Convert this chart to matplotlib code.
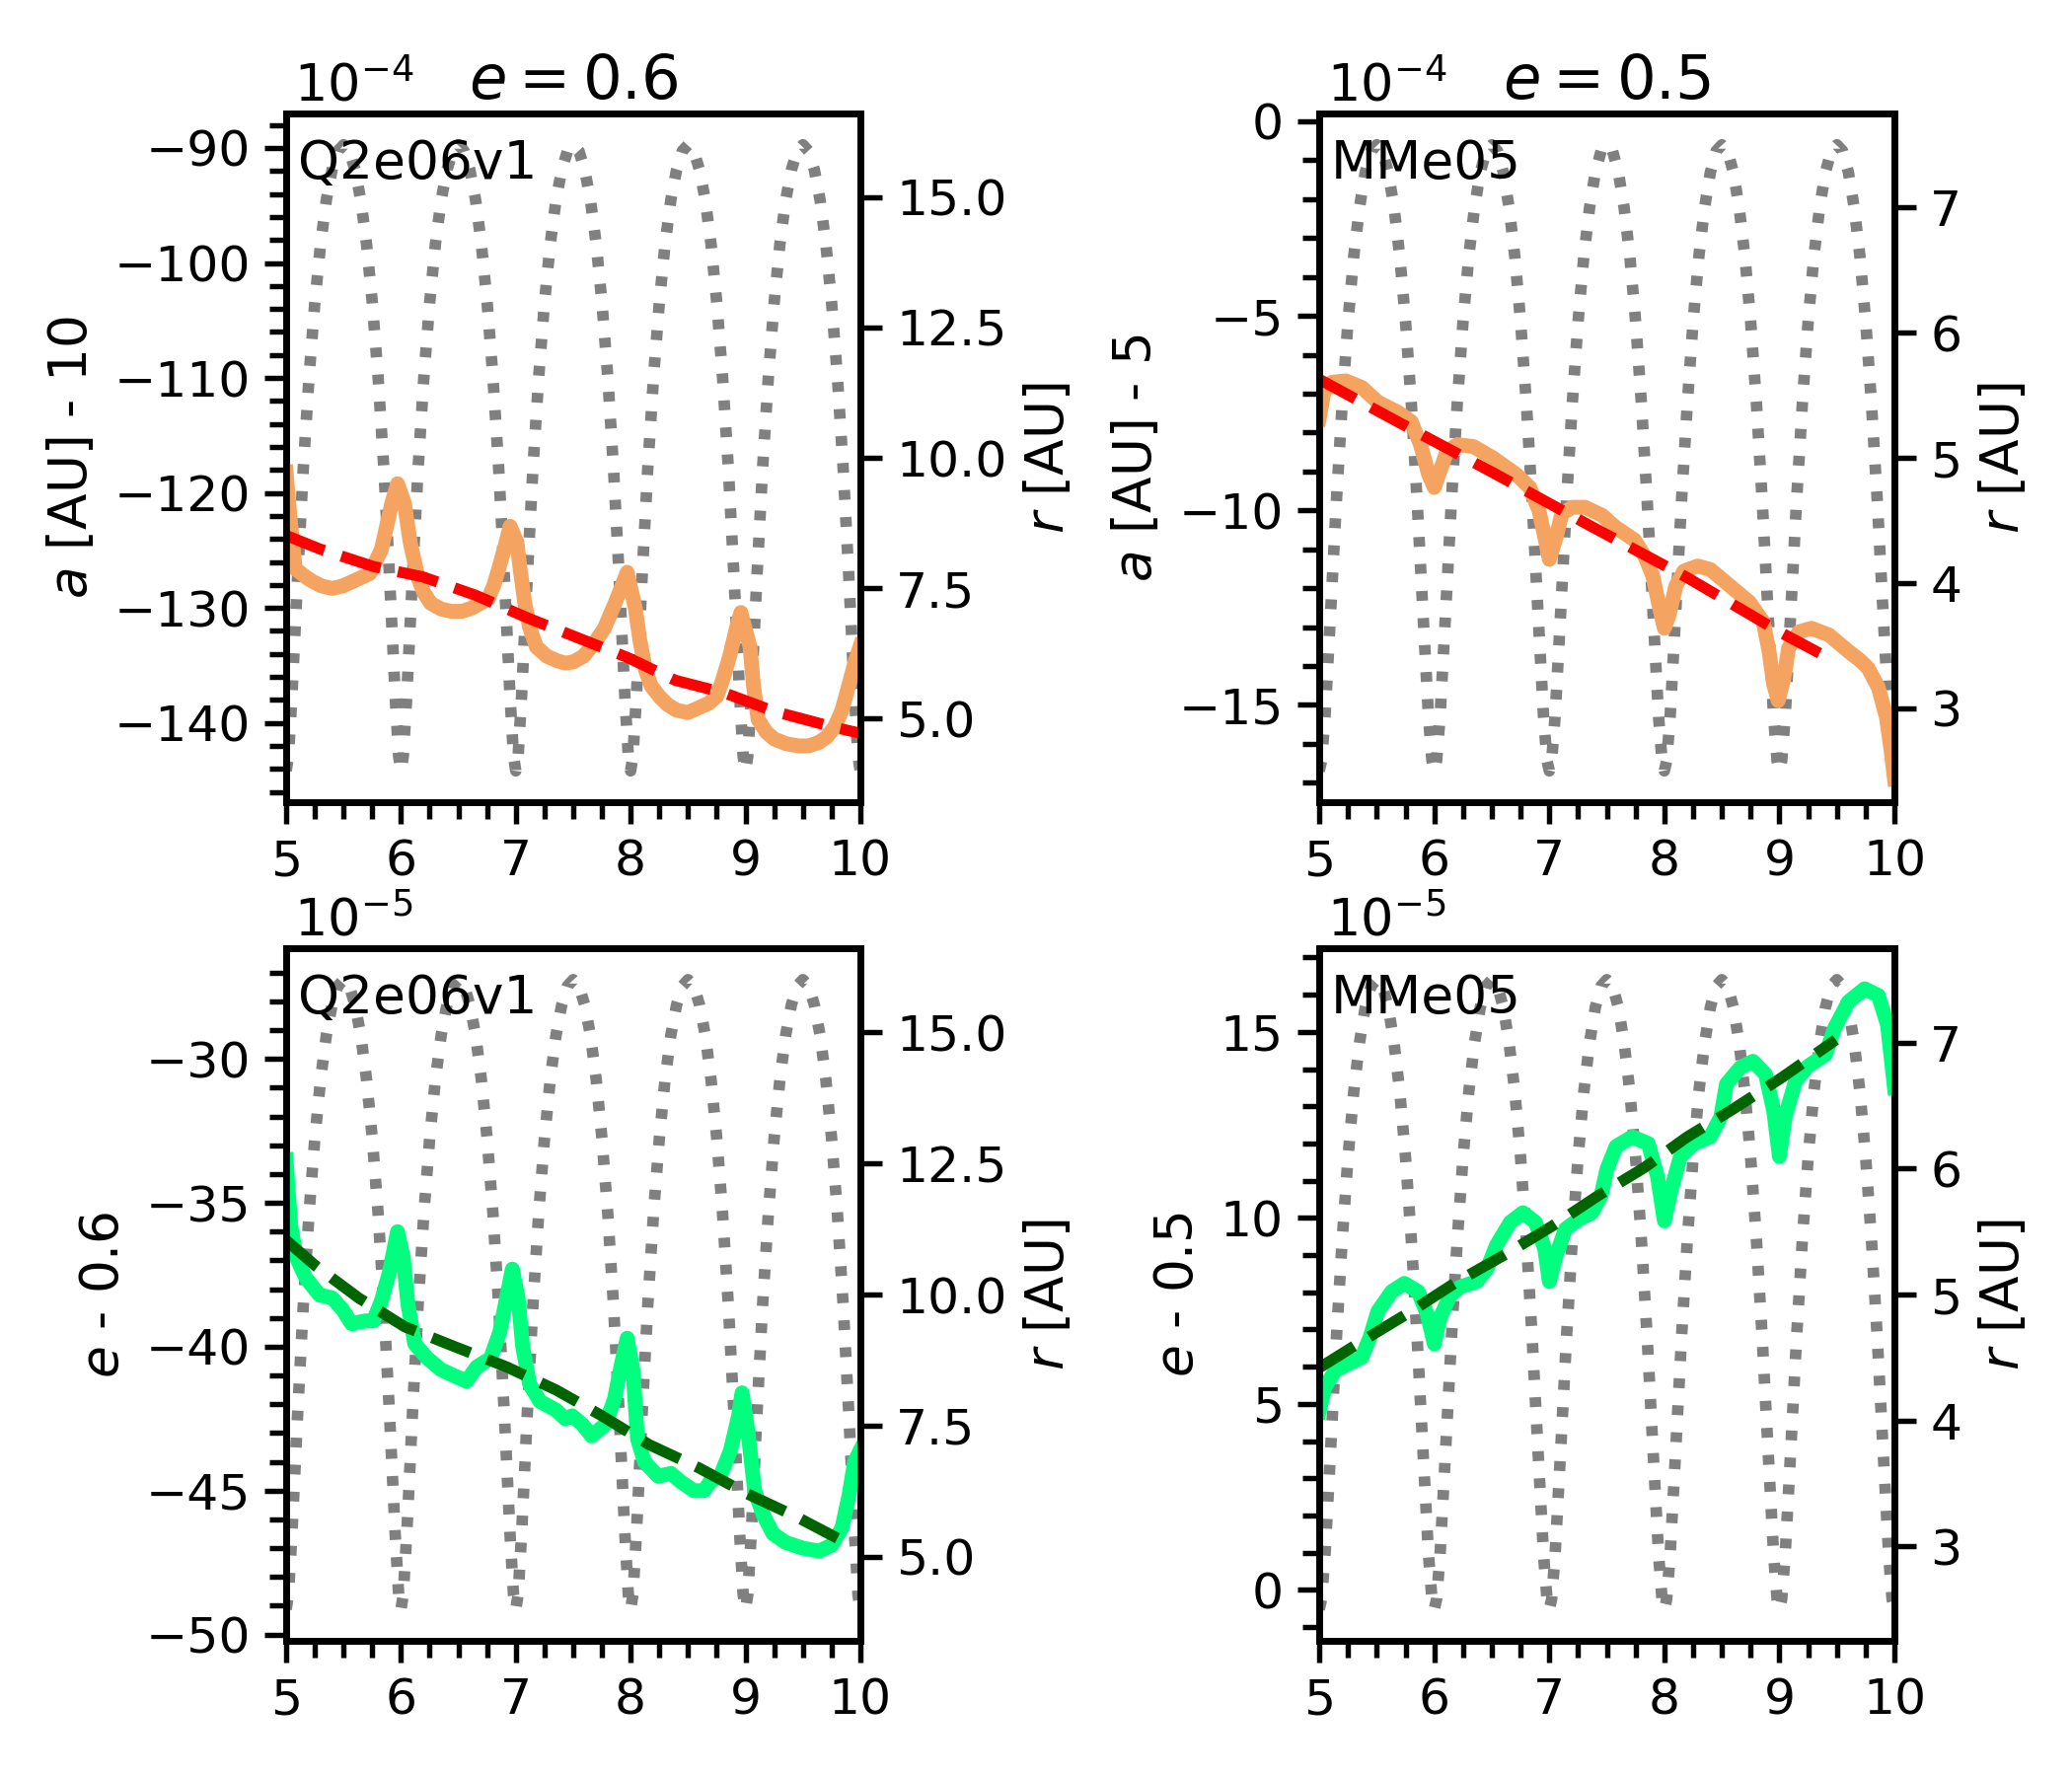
import matplotlib.pyplot as plt
from matplotlib.ticker import AutoMinorLocator, MultipleLocator

# Orbital distance r [AU] sampled over the 5 orbits (same time grid for both runs)
t_r = [5.00, 5.02, 5.05, 5.10, 5.15, 5.20, 5.25, 5.30, 5.35, 5.40, 5.45, 5.50, 5.55, 5.60, 5.65, 5.70, 5.75, 5.80, 5.85, 5.90, 5.95, 5.98,
       6.00, 6.02, 6.05, 6.10, 6.15, 6.20, 6.25, 6.30, 6.35, 6.40, 6.45, 6.50, 6.55, 6.60, 6.65, 6.70, 6.75, 6.80, 6.85, 6.90, 6.95, 6.98,
       7.00, 7.02, 7.05, 7.10, 7.15, 7.20, 7.25, 7.30, 7.35, 7.40, 7.45, 7.50, 7.55, 7.60, 7.65, 7.70, 7.75, 7.80, 7.85, 7.90, 7.95, 7.98,
       8.00, 8.02, 8.05, 8.10, 8.15, 8.20, 8.25, 8.30, 8.35, 8.40, 8.45, 8.50, 8.55, 8.60, 8.65, 8.70, 8.75, 8.80, 8.85, 8.90, 8.95, 8.98,
       9.00, 9.02, 9.05, 9.10, 9.15, 9.20, 9.25, 9.30, 9.35, 9.40, 9.45, 9.50, 9.55, 9.60, 9.65, 9.70, 9.75, 9.80, 9.85, 9.90, 9.95, 9.98,
       10.00]

r_e06 = [4.00, 4.28, 5.42, 7.73, 9.83, 11.57, 12.98, 14.10, 14.94, 15.52, 15.88, 16.00, 15.88, 15.52, 14.94, 14.10, 12.98, 11.57, 9.83, 7.73, 5.42, 4.28,
         4.00, 4.28, 5.42, 7.73, 9.83, 11.57, 12.98, 14.10, 14.94, 15.52, 15.88, 16.00, 15.88, 15.52, 14.94, 14.10, 12.98, 11.57, 9.83, 7.73, 5.42, 4.28,
         4.00, 4.28, 5.42, 7.73, 9.83, 11.57, 12.98, 14.10, 14.94, 15.52, 15.88, 16.00, 15.88, 15.52, 14.94, 14.10, 12.98, 11.57, 9.83, 7.73, 5.42, 4.28,
         4.00, 4.28, 5.42, 7.73, 9.83, 11.57, 12.98, 14.10, 14.94, 15.52, 15.88, 16.00, 15.88, 15.52, 14.94, 14.10, 12.98, 11.57, 9.83, 7.73, 5.42, 4.28,
         4.00, 4.28, 5.42, 7.73, 9.83, 11.57, 12.98, 14.10, 14.94, 15.52, 15.88, 16.00, 15.88, 15.52, 14.94, 14.10, 12.98, 11.57, 9.83, 7.73, 5.42, 4.28,
         4.00]

r_e05 = [2.50, 2.58, 2.93, 3.79, 4.67, 5.44, 6.09, 6.61, 7.00, 7.28, 7.45, 7.50, 7.45, 7.28, 7.00, 6.61, 6.09, 5.44, 4.67, 3.79, 2.93, 2.58,
         2.50, 2.58, 2.93, 3.79, 4.67, 5.44, 6.09, 6.61, 7.00, 7.28, 7.45, 7.50, 7.45, 7.28, 7.00, 6.61, 6.09, 5.44, 4.67, 3.79, 2.93, 2.58,
         2.50, 2.58, 2.93, 3.79, 4.67, 5.44, 6.09, 6.61, 7.00, 7.28, 7.45, 7.50, 7.45, 7.28, 7.00, 6.61, 6.09, 5.44, 4.67, 3.79, 2.93, 2.58,
         2.50, 2.58, 2.93, 3.79, 4.67, 5.44, 6.09, 6.61, 7.00, 7.28, 7.45, 7.50, 7.45, 7.28, 7.00, 6.61, 6.09, 5.44, 4.67, 3.79, 2.93, 2.58,
         2.50, 2.58, 2.93, 3.79, 4.67, 5.44, 6.09, 6.61, 7.00, 7.28, 7.45, 7.50, 7.45, 7.28, 7.00, 6.61, 6.09, 5.44, 4.67, 3.79, 2.93, 2.58,
         2.50]

# Q2e06v1: semi-major axis a - 10 AU (units of 1e-4)
t_a06 = [5.00, 5.02, 5.04, 5.08, 5.17, 5.23, 5.31, 5.40, 5.49, 5.58, 5.73, 5.83, 5.92, 5.97, 6.03, 6.08, 6.15, 6.20, 6.26,
         6.35, 6.44, 6.53, 6.62, 6.76, 6.81, 6.86, 6.91, 6.95, 7.01, 7.04, 7.08, 7.12, 7.18, 7.27, 7.36, 7.43, 7.50, 7.59,
         7.68, 7.77, 7.86, 7.92, 7.97, 8.04, 8.08, 8.13, 8.18, 8.25, 8.32, 8.40, 8.50, 8.61, 8.68, 8.75, 8.80, 8.86, 8.92,
         8.96, 9.04, 9.07, 9.11, 9.18, 9.25, 9.35, 9.46, 9.55, 9.64, 9.71, 9.78, 9.84, 9.89, 9.96, 10.00]
a06 = [-118.2, -120.6, -122.8, -126.6, -127.3, -127.7, -128.1, -128.3, -128.1, -127.7, -127.0, -124.9, -120.9, -119.2,
       -120.9, -124.3, -127.4, -128.7, -129.6, -130.1, -130.3, -130.3, -130.0, -129.2, -128.0, -126.3, -124.5, -122.9,
       -124.3, -126.8, -129.7, -131.7, -133.4, -134.2, -134.6, -134.8, -134.7, -134.2, -133.1, -131.8, -129.7, -128.2,
       -126.9, -130.0, -132.8, -135.4, -136.8, -137.7, -138.4, -138.9, -139.1, -138.6, -138.3, -137.7, -136.3, -134.3,
       -131.8, -130.4, -133.4, -136.8, -139.7, -140.8, -141.4, -141.8, -142.0, -142.0, -141.7, -141.2, -140.3, -138.9,
       -137.1, -134.5, -133.3]
t_a06_fit = [5.00, 5.30, 5.76, 6.19, 6.65, 7.11, 7.54, 7.97, 8.39, 8.82, 9.25, 9.78, 10.00]
a06_fit = [-123.7, -124.9, -126.4, -127.3, -128.9, -130.9, -132.6, -134.3, -136.3, -137.4, -139.0, -140.4, -140.9]

# MMe05: semi-major axis a - 5 AU (units of 1e-4)
t_a05 = [5.00, 5.04, 5.11, 5.23, 5.37, 5.51, 5.68, 5.80, 5.88, 5.95, 6.00, 6.05, 6.11, 6.20, 6.34, 6.51, 6.71, 6.83, 6.91, 6.96,
         7.00, 7.06, 7.11, 7.20, 7.31, 7.46, 7.57, 7.74, 7.83, 7.90, 7.96, 8.00, 8.04, 8.10, 8.17, 8.29, 8.40, 8.57, 8.74, 8.86,
         8.91, 8.95, 8.99, 9.04, 9.08, 9.17, 9.28, 9.43, 9.60, 9.70, 9.77, 9.86, 9.93, 9.97, 10.00]
a05 = [-7.64, -6.97, -6.71, -6.67, -6.84, -7.22, -7.47, -7.72, -8.31, -9.07, -9.41, -8.99, -8.48, -8.31, -8.36, -8.65, -9.07,
       -9.41, -10.00, -10.68, -11.26, -10.68, -10.08, -9.92, -9.92, -10.13, -10.42, -10.76, -11.18, -11.69, -12.53, -13.03,
       -12.70, -11.94, -11.56, -11.43, -11.52, -11.94, -12.36, -12.87, -13.62, -14.47, -14.89, -14.30, -13.54, -13.12, -13.03,
       -13.20, -13.62, -13.85, -14.05, -14.55, -15.31, -16.15, -16.90]
t_a05_fit = [5.00, 5.68, 6.51, 7.37, 8.20, 9.00, 9.45]
a05_fit = [-6.63, -7.72, -9.03, -10.42, -11.73, -13.12, -13.83]

# Q2e06v1: eccentricity e - 0.6 (units of 1e-5)
t_e06 = [5.00, 5.04, 5.09, 5.17, 5.29, 5.40, 5.49, 5.57, 5.69, 5.76, 5.83, 5.90, 5.97, 6.02, 6.06, 6.12, 6.23, 6.35, 6.46, 6.57,
         6.66, 6.78, 6.86, 6.92, 6.97, 7.02, 7.06, 7.12, 7.21, 7.35, 7.43, 7.49, 7.58, 7.66, 7.78, 7.86, 7.92, 7.97, 8.02, 8.06,
         8.12, 8.24, 8.35, 8.44, 8.55, 8.64, 8.69, 8.78, 8.87, 8.94, 8.97, 9.02, 9.08, 9.15, 9.24, 9.35, 9.50, 9.64, 9.75, 9.84,
         9.90, 9.95, 10.00]
e06 = [-33.5, -35.8, -36.9, -37.6, -38.2, -38.3, -38.7, -39.2, -39.1, -39.1, -38.4, -37.4, -36.0, -36.9, -38.5, -39.9, -40.4,
       -40.8, -41.0, -41.2, -40.7, -40.4, -39.5, -38.3, -37.3, -38.3, -40.0, -41.3, -41.9, -42.2, -42.5, -42.4, -42.7, -43.1,
       -42.7, -41.8, -40.6, -39.7, -40.8, -43.2, -44.0, -44.5, -44.4, -44.7, -45.0, -45.0, -44.7, -44.5, -43.6, -42.4, -41.6,
       -42.9, -45.0, -45.8, -46.5, -46.8, -47.0, -47.1, -46.9, -46.3, -45.2, -44.0, -43.6]
t_e06_fit = [5.00, 5.26, 5.63, 6.03, 6.47, 6.92, 7.35, 7.75, 8.16, 8.59, 9.01, 9.44, 9.87]
e06_fit = [-36.3, -37.2, -38.3, -39.3, -40.0, -40.7, -41.5, -42.4, -43.4, -44.2, -45.1, -45.9, -46.8]

# MMe05: eccentricity e - 0.5 (units of 1e-5)
t_e05 = [5.00, 5.05, 5.14, 5.25, 5.37, 5.44, 5.51, 5.63, 5.74, 5.86, 5.94, 6.00, 6.05, 6.14, 6.23, 6.37, 6.46, 6.54, 6.66, 6.77,
         6.88, 6.96, 7.00, 7.06, 7.14, 7.26, 7.37, 7.45, 7.50, 7.58, 7.72, 7.86, 7.94, 8.00, 8.06, 8.14, 8.26, 8.40, 8.49, 8.54,
         8.66, 8.77, 8.88, 8.95, 9.00, 9.05, 9.14, 9.25, 9.40, 9.48, 9.60, 9.74, 9.86, 9.94, 10.00]
e05 = [4.80, 5.45, 5.90, 6.07, 6.25, 6.78, 7.49, 8.02, 8.24, 8.02, 7.40, 6.61, 7.31, 7.93, 8.15, 8.29, 8.64, 9.26, 9.88, 10.14,
       9.88, 9.17, 8.29, 9.00, 9.70, 9.97, 10.14, 10.60, 11.30, 11.92, 12.18, 12.00, 11.12, 9.92, 10.76, 11.65, 12.00, 12.18,
       12.71, 13.60, 14.04, 14.21, 13.86, 12.89, 11.65, 12.71, 13.68, 14.08, 14.39, 15.10, 15.81, 16.16, 15.98, 15.19, 13.50]
t_e05_fit = [5.00, 5.40, 5.80, 6.20, 6.63, 7.03, 7.43, 7.82, 8.20, 8.60, 9.02, 9.39, 9.49]
e05_fit = [5.97, 6.74, 7.49, 8.29, 9.04, 9.79, 10.61, 11.34, 12.18, 12.93, 13.77, 14.57, 14.79]

plt.rcParams['font.family'] = 'DejaVu Sans'

fig = plt.figure(figsize=(7, 6), dpi=300)


def make_panel(rect, t, y, t_fit, y_fit, color, fit_color, r, rstep, ylim, ystep,
               ylabel, run, power, title=None):
    """Draw one panel: quantity on the left axis, orbital distance on the right."""
    ax = fig.add_axes(rect)
    ax2 = ax.twinx()

    # orbital distance in the background
    ax2.plot(t_r, r, color='gray', lw=2.8, linestyle=(0, (0.85, 1.5)))
    ax2.yaxis.set_major_locator(MultipleLocator(rstep))

    ax.plot(t, y, color=color, lw=3.6)
    ax.plot(t_fit, y_fit, color=fit_color, lw=2.7, linestyle='--')

    # keep the main curves above the dotted r curve
    ax.set_zorder(ax2.get_zorder() + 1)
    ax.patch.set_visible(False)

    ax.set_xlim(5, 10)
    ax.set_ylim(*ylim)
    ax.xaxis.set_major_locator(MultipleLocator(1))
    ax.xaxis.set_minor_locator(AutoMinorLocator(4))
    ax.yaxis.set_major_locator(MultipleLocator(ystep))
    ax.yaxis.set_minor_locator(AutoMinorLocator(5))

    ax.tick_params(which='major', direction='out', length=5.2, width=1.3, labelsize=12.1)
    ax.tick_params(which='minor', direction='out', length=4, width=1.3)
    ax2.tick_params(axis='y', which='major', direction='out', length=5.2, width=1.3, labelsize=12.1)
    for a in (ax, ax2):
        for s in a.spines.values():
            s.set_linewidth(1.6)

    ax.set_ylabel(ylabel, fontsize=12.8)
    ax2.set_ylabel('$r$ [AU]', fontsize=12.8)

    ax.text(0.02, 0.965, run, transform=ax.transAxes, ha='left', va='top', fontsize=12.8)
    ax.annotate(power, xy=(0, 1), xycoords='axes fraction', xytext=(2, 3),
                textcoords='offset points', ha='left', va='baseline', fontsize=12.6)
    if title:
        ax.set_title(title, fontsize=15, pad=3.6)
    return ax, ax2


make_panel([0.1381, 0.5483, 0.2771, 0.3878], t_a06, a06, t_a06_fit, a06_fit,
           'sandybrown', 'red', r_e06, 2.5, (-146.9, -87.0), 10,
           '$a$ [AU] - 10', 'Q2e06v1', '$10^{-4}$', title='$e = 0.6$')

make_panel([0.6367, 0.5483, 0.2776, 0.3878], t_a05, a05, t_a05_fit, a05_fit,
           'sandybrown', 'red', r_e05, 1, (-17.5, 0.2), 5,
           '$a$ [AU] - 5', 'MMe05', '$10^{-4}$', title='$e = 0.5$')

make_panel([0.1381, 0.0761, 0.2771, 0.39], t_e06, e06, t_e06_fit, e06_fit,
           'springgreen', 'darkgreen', r_e06, 2.5, (-50.22, -26.15), 5,
           '$e$ - 0.6', 'Q2e06v1', '$10^{-5}$')

make_panel([0.6367, 0.0761, 0.2776, 0.39], t_e05, e05, t_e05_fit, e05_fit,
           'springgreen', 'darkgreen', r_e05, 1, (-1.37, 17.25), 5,
           '$e$ - 0.5', 'MMe05', '$10^{-5}$')

fig.savefig('out.png', dpi=300)
